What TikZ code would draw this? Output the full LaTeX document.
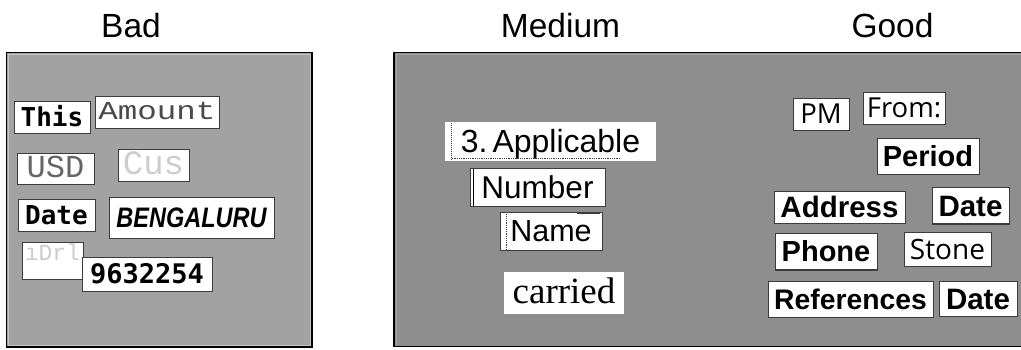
\documentclass[tikz,border=0pt]{standalone}
\usepackage{graphicx}
\usepackage{fontspec}
\setmainfont{Liberation Sans}
\newfontfamily\sansw{Liberation Sans}
\newfontfamily\serifw{Liberation Serif}
\newfontfamily\monow{Liberation Mono}
\newfontfamily\dmono{DejaVu Sans Mono}
\newfontfamily\opensans{Open Sans}
\newcommand\fsz[1]{\fontsize{#1}{#1}\selectfont}

\definecolor{badfill}{HTML}{A2A2A2}
\definecolor{midfill}{HTML}{8E8E8E}
\definecolor{edge}{HTML}{3C3C3C}
\definecolor{faint}{HTML}{CDCDCD}
\definecolor{inkgray}{HTML}{4A4A4A}

\tikzset{
  panel/.style={fill=#1, draw=black, line width=1.6pt},
  innerline/.style={draw=#1, line width=0.8pt},
  wbox/.style 2 args={minimum width=#1pt, minimum height=#2pt, inner sep=0pt,
    fill=white, anchor=center},
  framed/.style={draw=edge, line width=0.9pt},
  title/.style={font=\sansw\fsz{33.5}, anchor=base, inner sep=0pt},
  boldmono/.style={font=\dmono\bfseries\fsz{#1}},
  plainmono/.style={font=\monow\fsz{#1}},
  sansreg/.style={font=\sansw\fsz{#1}},
  sansbold/.style={font=\sansw\bfseries\fsz{#1}},
  segoe/.style={font=\opensans\fsz{#1}},
}

\begin{document}
\begin{tikzpicture}[x=1pt, y=-1pt]
\useasboundingbox (0,0) rectangle (1021,349);
\clip (0,0) rectangle (1021,349);

% panels
\path[panel=badfill] (6.5,52.5) rectangle (312,347);
\draw[innerline=gray!45!white] (8.5,54.5) rectangle (310,345);
\path[panel=midfill] (394,52.5) rectangle (1030,346.5);
\draw[innerline=gray!70!white] (396,54.5) -- (1030,54.5);
\draw[innerline=gray!70!white] (396,54.5) -- (396,344.5);

% titles
\node[title] (tbad) at (131,37) {Bad};
\node[title] (tmed) at (560.5,37) {Medium};
\node[title] (tgood) at (892.5,37) {Good};

% ---- Bad ----
\node[wbox={76}{32}, framed, boldmono=26, text height=19pt, text depth=0pt] (b1) at (52,117) {This};
\node[wbox={124}{32}, framed, plainmono=26, text=inkgray, text height=15pt, text depth=0pt] (b2) at (157,112) {\scalebox{1.25}[1]{Amount}};
\node[wbox={77}{31}, framed, plainmono=32, text=inkgray!85!white, text height=18pt, text depth=0pt] (b3) at (55.5,168.5) {USD};
\node[wbox={71}{32}, framed, plainmono=34, text=faint, text height=19.4pt, text depth=0pt] (b4) at (153.5,165) {Cus};
\node[wbox={77}{32}, framed, boldmono=26, text height=19pt, text depth=0pt] (b5) at (56.5,215) {Date};
\node[wbox={165}{41}, framed, font=\sansw\bfseries\itshape\fsz{23.5}, text height=20.2pt, text depth=0pt] (b6) at (191.5,217.5) {\scalebox{1}[1.2]{BENGALURU}};
\node[wbox={61}{37}, framed, plainmono=23, text=faint, text height=13pt, text depth=13pt] (b7) at (52.5,260.5) {ıDrl};
\node[wbox={130}{34}, framed, boldmono=27, text height=19.7pt, text depth=0pt] (b8) at (147,274) {9632254};

% ---- Medium ----
\node[wbox={211}{39}, sansreg=32, text height=22.9pt, text depth=0pt] (m1) at (550.5,141.5) {3.\hspace{5pt}Applicable};
\node[wbox={135}{38}, framed, sansreg=31.5, text height=22.6pt, text depth=0pt] (m2) at (537.5,187) {Number};
\node[wbox={102}{38}, framed, sansreg=30.5, text height=21.8pt, text depth=0pt] (m3) at (551,231) {Name};
\node[wbox={120}{42}, font=\serifw\fsz{37}, text height=25pt, text depth=4pt] (m4) at (564,293) {carried};

% scanning marks along the medium words
\draw[edge, densely dotted, line width=1pt] ([xshift=7pt,yshift=-1pt]m1.north west) -- ([xshift=7pt,yshift=2pt]m1.south west);
\draw[edge, densely dotted, line width=0.8pt] ([xshift=7pt,yshift=2.5pt]m1.south west) -- ([xshift=-36pt,yshift=2.5pt]m1.south east);
\draw[black, line width=1.6pt] ([xshift=4pt,yshift=-1.5pt]m2.north west) -- ([xshift=4pt]m2.south west);
\draw[edge, densely dotted, line width=1.2pt] ([xshift=7pt,yshift=-2pt]m3.north west) -- ([xshift=7pt]m3.south west);
\draw[edge, line width=1.6pt] ([xshift=-25pt,yshift=-1.5pt]m3.north east) -- ([xshift=-2pt,yshift=-1.5pt]m3.north east);

% ---- Good ----
\node[wbox={56}{32}, framed, segoe=27.5, text height=19.6pt, text depth=0pt] (g1) at (821,114) {PM};
\node[wbox={82}{32}, framed, segoe=27.5, text height=19.6pt, text depth=0pt] (g2) at (904,108) {From:};
\node[wbox={102}{36}, framed, sansbold=29, text height=20.8pt, text depth=0pt] (g3) at (928,156) {Period};
\node[wbox={131}{32}, framed, sansbold=29.5, text height=21.1pt, text depth=0pt] (g4) at (839.5,207) {Address};
\node[wbox={77}{37}, framed, sansbold=29.5, text height=21.1pt, text depth=0pt] (g5) at (970.5,205.5) {Date};
\node[wbox={102}{37}, framed, sansbold=29, text height=20.8pt, text depth=0pt] (g6) at (826,251.5) {Phone};
\node[wbox={87}{34}, framed, segoe=28, text height=20pt, text depth=0pt] (g7) at (947.5,249) {Stone};
\node[wbox={165}{36}, framed, sansbold=28.3, text height=20.3pt, text depth=0pt] (g8) at (850.5,299) {References};
\node[wbox={78}{35}, framed, sansbold=29.5, text height=21.1pt, text depth=0pt] (g9) at (978,298.5) {Date};

% heavier lower edges
\draw[edge, line width=2pt] (g5.south west) -- (g5.south east);
\draw[edge, line width=2pt] (g6.south west) -- (g6.south east);
\end{tikzpicture}
\end{document}
